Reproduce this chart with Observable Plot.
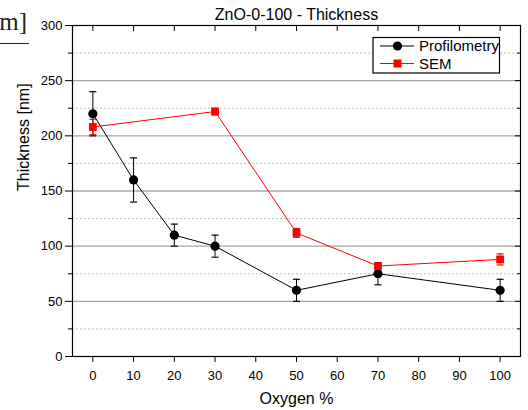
<!DOCTYPE html>
<html>
<head>
<meta charset="utf-8">
<script src="https://cdn.jsdelivr.net/npm/d3@7"></script>
<script src="https://cdn.jsdelivr.net/npm/@observablehq/plot@0.6"></script>
<style>
  html, body { margin: 0; padding: 0; background: #fff; }
  #chart svg { display: block; }
</style>
</head>
<body>
<div id="chart"></div>
<script>
// ---- data ----
const chartTitle = "ZnO-0-100 - Thickness";
const xLabel = "Oxygen %";
const yLabel = "Thickness [nm]";
const seriesNames = ["Profilometry", "SEM"];

const profOxygen = [0, 10, 20, 30, 50, 70, 100];
const profThickness = [220, 160, 110, 100, 60, 75, 60];
const profError = [20, 20, 10, 10, 10, 10, 10];

const semOxygen = [0, 30, 50, 70, 100];
const semThickness = [208, 222, 112, 82, 88];
const semError = [7, 3, 4, 2, 5];

const xTicks = [0, 10, 20, 30, 40, 50, 60, 70, 80, 90, 100];
const yTicks = [0, 50, 100, 150, 200, 250, 300];
const yMinorTicks = [25, 75, 125, 175, 225, 275];
const yGrid = [50, 100, 150, 200, 250];

// ---- tables ----
const prof = profOxygen.map((x, i) => ({x, y: profThickness[i], lo: profThickness[i] - profError[i], hi: profThickness[i] + profError[i]}));
const sem = semOxygen.map((x, i) => ({x, y: semThickness[i], lo: semThickness[i] - semError[i], hi: semThickness[i] + semError[i]}));

const capSymbol = {
  draw(context, size) {
    const w = 3.5;
    context.moveTo(-w, 0);
    context.lineTo(w, 0);
  }
};

const capMarks = (data, color) => [
  Plot.ruleX(data, {x: "x", y1: "lo", y2: "hi", stroke: color, strokeWidth: 1}),
  Plot.dot(data, {x: "x", y: "lo", symbol: capSymbol, stroke: color, fill: "none", strokeWidth: 1.2}),
  Plot.dot(data, {x: "x", y: "hi", symbol: capSymbol, stroke: color, fill: "none", strokeWidth: 1.2})
];

const plot = Plot.plot({
  width: 528,
  height: 410,
  marginLeft: 72,
  marginRight: 8,
  marginTop: 25,
  marginBottom: 54,
  style: {fontFamily: "'Liberation Sans', Arial, sans-serif", fontSize: "13px", background: "#fff", color: "#000", overflow: "visible"},
  x: {domain: [-5, 105], axis: null},
  y: {domain: [0, 300], axis: null},
  marks: [
    Plot.ruleY(yMinorTicks, {stroke: "#bdbdbd", strokeDasharray: "2,2", strokeWidth: 1}),
    Plot.ruleY(yGrid, {stroke: "#a6a6a6", strokeWidth: 1.3}),
    Plot.line(prof, {x: "x", y: "y", stroke: "black", strokeWidth: 1}),
    Plot.line(sem, {x: "x", y: "y", stroke: "#ff0000", strokeWidth: 1}),
    ...capMarks(prof, "black"),
    ...capMarks(sem, "#ff0000"),
    Plot.dot(prof, {x: "x", y: "y", r: 4.6, fill: "black", stroke: "none"}),
    Plot.dot(sem, {x: "x", y: "y", r: 4.4, symbol: "square", fill: "#ff0000", stroke: "none"}),
    Plot.frame({stroke: "black", strokeWidth: 1.2}),
    Plot.axisY(yTicks, {anchor: "left", tickSize: 7, tickPadding: 3, label: null, fontSize: 13}),
    Plot.axisY(yMinorTicks, {anchor: "left", tickSize: 4, tickFormat: () => "", label: null}),
    Plot.axisY(yTicks, {anchor: "right", tickSize: -6, tickFormat: () => "", label: null}),
    Plot.axisY(yMinorTicks, {anchor: "right", tickSize: -4, tickFormat: () => "", label: null}),
    Plot.axisX(xTicks, {anchor: "bottom", tickSize: 6, tickPadding: 8, label: null, fontSize: 13}),
    Plot.axisX(xTicks, {anchor: "top", tickSize: -5, tickFormat: () => "", label: null}),
    Plot.text([chartTitle], {frameAnchor: "top", dy: -11, lineAnchor: "middle", fontSize: 16}),
    Plot.text([xLabel], {frameAnchor: "bottom", dy: 42, lineAnchor: "middle", fontSize: 16}),
    Plot.text([yLabel], {frameAnchor: "left", dx: -49, rotate: -90, lineAnchor: "middle", fontSize: 16})
  ]
});

document.getElementById("chart").appendChild(plot);

// ---- legend (inside the plot, top right) and clipped label artifact ----
const svg = d3.select(plot);
const lg = svg.append("g").attr("font-family", "'Liberation Sans', Arial, sans-serif").attr("font-size", 15).attr("text-anchor", "start");
lg.append("rect").attr("x", 373).attr("y", 37.5).attr("width", 126.5).attr("height", 35.5)
  .attr("fill", "white").attr("stroke", "black").attr("stroke-width", 1.2);
const entries = [
  {name: seriesNames[0], color: "black", shape: "circle", y: 46},
  {name: seriesNames[1], color: "#ff0000", shape: "square", y: 63.5}
];
entries.forEach(e => {
  lg.append("line").attr("x1", 380).attr("x2", 414).attr("y1", e.y).attr("y2", e.y).attr("stroke", e.color).attr("stroke-width", 1);
  if (e.shape === "circle") {
    lg.append("circle").attr("cx", 397.5).attr("cy", e.y).attr("r", 4.6).attr("fill", e.color);
  } else {
    lg.append("rect").attr("x", 393.5).attr("y", e.y - 4).attr("width", 8).attr("height", 8).attr("fill", e.color);
  }
  lg.append("text").attr("x", 419).attr("y", e.y + 5.3).attr("text-anchor", "start").text(e.name);
});

const art = svg.append("g");
art.append("text").attr("x", 27).attr("y", 30).attr("text-anchor", "end")
  .attr("font-family", "'Liberation Serif', 'DejaVu Serif', serif").attr("font-size", 25).attr("fill", "#222").text("m]");
art.append("line").attr("x1", 0).attr("x2", 29).attr("y1", 43.5).attr("y2", 43.5).attr("stroke", "#222").attr("stroke-width", 1);
</script>
</body>
</html>
